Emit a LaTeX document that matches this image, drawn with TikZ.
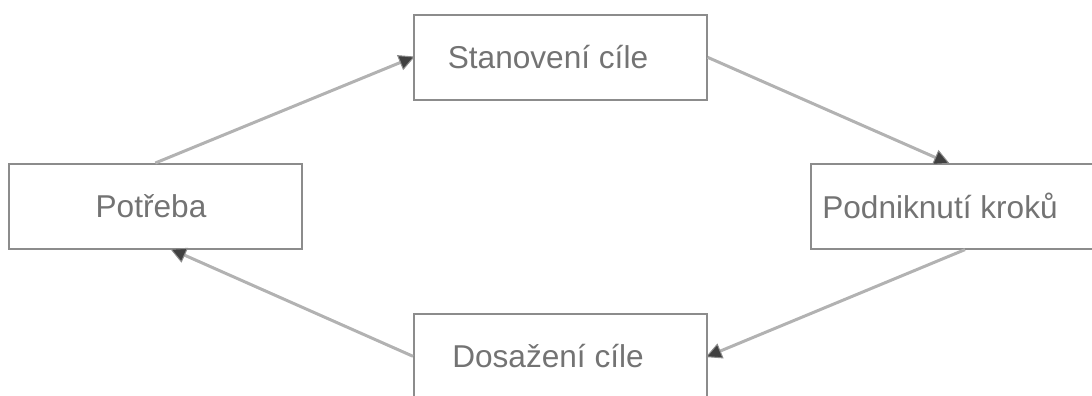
\documentclass[tikz,border=0pt]{standalone}
\usepackage{fontspec}
\setmainfont{Liberation Sans}
\usetikzlibrary{arrows.meta,calc}
\begin{document}
\begin{tikzpicture}[x=1pt,y=-1pt,
  box/.style={draw=black!45, line width=1.6pt, rectangle, minimum width=293pt, minimum height=85pt, inner sep=0pt, anchor=north west},
  lbl/.style={text=black!55, font=\fontsize{31.6}{38}\selectfont, inner sep=0pt},
  conn/.style={draw=black!30, line width=3pt, -{Triangle[length=16pt,width=16pt,color=black!45,fill=black!75,line width=1pt]}, shorten >=-2pt}
]
\useasboundingbox (0,0) rectangle (1092,396);
\clip (0,0) rectangle (1092,396);
\node[box] (A) at (413,14) {};
\node[box] (B) at (8,163) {};
\node[box] (C) at (810,163) {};
\node[box] (D) at (413,313) {};
\node[lbl] (tA) at (548,57) {Stanovení cíle};
\node[lbl] (tB) at (151,206) {Potřeba};
\node[lbl] (tC) at (940,206) {Podniknutí kroků};
\node[lbl] (tD) at (548,356) {Dosažení cíle};
\coordinate (cIn) at ($(C.north west)+(138,0)$);
\coordinate (cOut) at ($(C.south west)+(155,0)$);
\coordinate (bIn) at ($(B.south west)+(164,0)$);
\draw[conn] (B.north) -- (A.west);
\draw[conn] (A.east) -- (cIn);
\draw[conn] (cOut) -- (D.east);
\draw[conn] (D.west) -- (bIn);
\end{tikzpicture}
\end{document}
